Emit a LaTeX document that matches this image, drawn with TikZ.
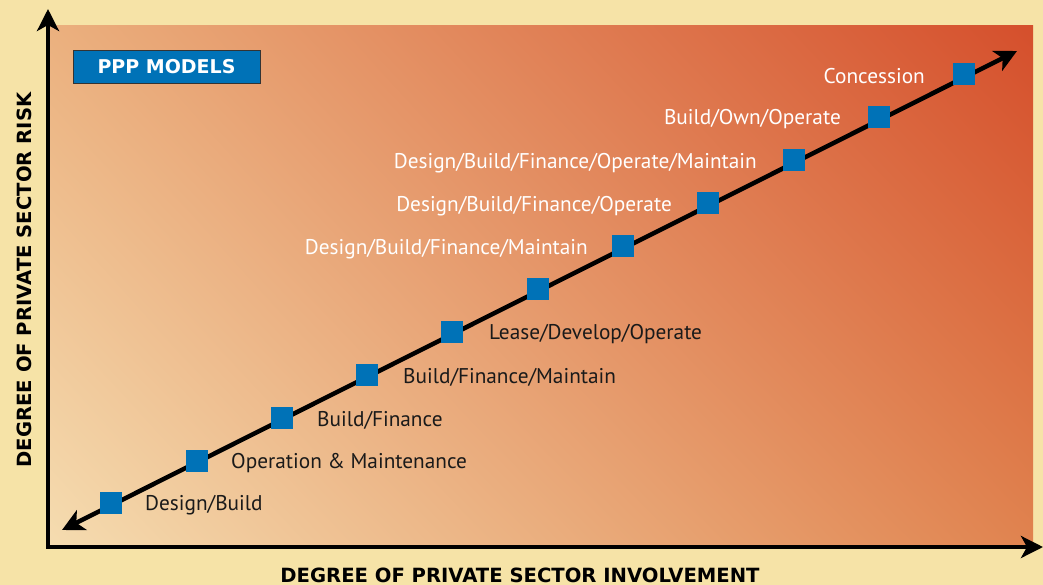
\documentclass[tikz,border=0pt]{standalone}
\usepackage{fontspec}
\setmainfont{PT Sans}
\newfontfamily\boldlbl{DejaVu Sans}
\usetikzlibrary{arrows.meta,shadings}
\definecolor{bgyellow}{HTML}{F6E3A7}
\definecolor{cTL}{HTML}{EBB07E}
\definecolor{cTR}{HTML}{D54F2C}
\definecolor{cBR}{HTML}{E0834F}
\definecolor{cBL}{HTML}{F5DCB0}
\definecolor{pppblue}{HTML}{0072B7}
\definecolor{darktext}{HTML}{1A1A1A}
\tikzset{
  sq/.style={fill=pppblue, draw=none, minimum size=22pt, inner sep=0pt},
  lbl/.style={font=\fontsize{21.3}{24}\selectfont, inner sep=0pt, text=darktext},
  wlbl/.style={font=\fontsize{21.3}{24}\selectfont, inner sep=0pt, text=white},
  axislbl/.style={font=\boldlbl\fontsize{19.6}{22}\selectfont\bfseries, inner sep=0pt, text=black},
  axisline/.style={line width=4.5pt, -{Stealth[length=22pt,width=22pt,inset=6pt]}},
}
\begin{document}
\begin{tikzpicture}[x=1pt,y=-1pt]
\useasboundingbox (0,0) rectangle (1043,585);
\fill[bgyellow] (0,0) rectangle (1043,585);
\shade[upper left=cTL, upper right=cTR, lower left=cBL, lower right=cBR] (50,26) rectangle (1033,546);
% axes
\coordinate (origin) at (48,547);
\coordinate (ytip) at (48,9);
\coordinate (xtip) at (1043,547);
\draw[axisline, line cap=rect] (origin) -- (ytip);
\draw[axisline] (origin) -- (xtip);
% axis labels
\node[axislbl] (xlab) at (520,575) {DEGREE OF PRIVATE SECTOR INVOLVEMENT};
\node[axislbl, rotate=90] (ylab) at (24,280) {DEGREE OF PRIVATE SECTOR RISK};
% title box
\node[fill=pppblue, draw=black!80, line width=0.8pt, minimum width=187pt, minimum height=33pt, inner sep=0pt,
      text=white, font=\boldlbl\fontsize{19}{22}\selectfont\bfseries] (title) at (166.5,67) {PPP MODELS};
% diagonal
\coordinate (dstart) at (62,530);
\coordinate (dend) at (1017,51);
\draw[line width=4.5pt, {Stealth[length=22pt,width=22pt,inset=6pt]}-{Stealth[length=22pt,width=22pt,inset=6pt]}] (dstart) -- (dend);
% squares
\node[sq] (s1) at (111,503) {};
\node[sq] (s2) at (197,461) {};
\node[sq] (s3) at (282,418) {};
\node[sq] (s4) at (367,375) {};
\node[sq] (s5) at (452,332) {};
\node[sq] (s6) at (538,289) {};
\node[sq] (s7) at (623,246) {};
\node[sq] (s8) at (708,203) {};
\node[sq] (s9) at (794,160) {};
\node[sq] (s10) at (879,117) {};
\node[sq] (s11) at (964,74) {};
% labels below line
\node[lbl, anchor=west] (l1) at (145,505) {Design/Build};
\node[lbl, anchor=west] (l2) at (231,463) {Operation \& Maintenance};
\node[lbl, anchor=west] (l3) at (317,420) {Build/Finance};
\node[lbl, anchor=west] (l4) at (403,377) {Build/Finance/Maintain};
\node[lbl, anchor=west] (l5) at (489,334) {Lease/Develop/Operate};
% labels above line
\node[wlbl, anchor=east] (l7) at (588,249) {Design/Build/Finance/Maintain};
\node[wlbl, anchor=east] (l8) at (672,206) {Design/Build/Finance/Operate};
\node[wlbl, anchor=east] (l9) at (757,163) {Design/Build/Finance/Operate/Maintain};
\node[wlbl, anchor=east] (l10) at (841,119) {Build/Own/Operate};
\node[wlbl, anchor=east] (l11) at (925,76) {Concession};
\end{tikzpicture}
\end{document}
